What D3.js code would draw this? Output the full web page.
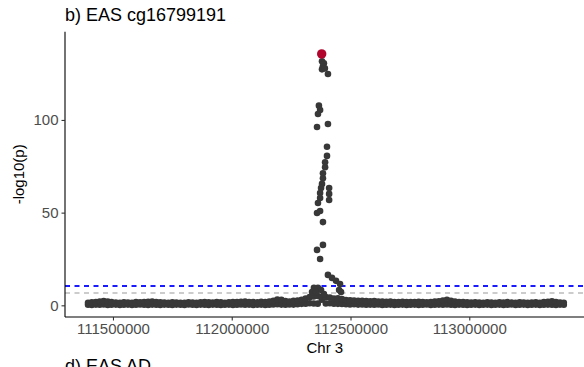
<!DOCTYPE html>
<html>
<head>
<meta charset="utf-8">
<script src="https://cdn.jsdelivr.net/npm/d3@7"></script>
<style>
  body { margin: 0; background: #fff; }
  svg { display: block; font-family: "Liberation Sans", Arial, sans-serif; }
</style>
</head>
<body>
<div id="chart"></div>
<script>
// positions in Mb on chr 3, values are -log10(p)
var bgPos = [
  111.395, 111.411, 111.428, 111.444, 111.461, 111.478, 111.494, 111.512, 111.529, 111.546,
  111.563, 111.580, 111.597, 111.614, 111.631, 111.648, 111.665, 111.682, 111.699, 111.716,
  111.733, 111.750, 111.767, 111.784, 111.801, 111.818, 111.835, 111.852, 111.869, 111.886,
  111.903, 111.920, 111.937, 111.954, 111.971, 111.988, 112.005, 112.022, 112.039, 112.056,
  112.073, 112.090, 112.107, 112.124, 112.141, 112.158, 112.175, 112.192, 112.209, 112.226,
  112.243, 112.260, 112.277, 112.294, 112.311, 112.328, 112.345, 112.362, 112.379, 112.396,
  112.413, 112.430, 112.447, 112.464, 112.481, 112.498, 112.515, 112.532, 112.549, 112.566,
  112.583, 112.600, 112.617, 112.634, 112.651, 112.668, 112.685, 112.702, 112.719, 112.736,
  112.753, 112.770, 112.787, 112.804, 112.821, 112.838, 112.855, 112.872, 112.889, 112.906,
  112.923, 112.940, 112.957, 112.974, 112.991, 113.008, 113.025, 113.042, 113.059, 113.076,
  113.093, 113.110, 113.127, 113.144, 113.161, 113.178, 113.195, 113.212, 113.229, 113.246,
  113.263, 113.280, 113.297, 113.314, 113.331, 113.348, 113.365, 113.382, 113.398
];
var bgLow = [
  0.3, 0.2, 0.4, 0.3, 0.5, 0.2, 0.3, 0.4, 0.2, 0.3,
  0.4, 0.2, 0.3, 0.5, 0.3, 0.2, 0.4, 0.3, 0.2, 0.4,
  0.3, 0.2, 0.4, 0.3, 0.2, 0.5, 0.3, 0.2, 0.4, 0.3,
  0.2, 0.4, 0.3, 0.2, 0.3, 0.4, 0.2, 0.3, 0.5, 0.3,
  0.4, 0.2, 0.3, 0.4, 0.2, 0.3, 0.5, 0.6, 0.4, 0.3,
  0.5, 0.4, 0.6, 0.8, 0.9, 1.1, 1.0, 0.9, 3.0, 1.0,
  1.1, 0.9, 0.8, 0.7, 0.6, 0.5, 0.6, 0.4, 0.5, 0.3,
  0.4, 0.3, 0.5, 0.2, 0.3, 0.4, 0.2, 0.3, 0.4, 0.2,
  0.3, 0.4, 0.2, 0.3, 0.5, 0.2, 0.3, 0.4, 0.3, 0.5,
  0.3, 0.2, 0.4, 0.3, 0.2, 0.3, 0.4, 0.2, 0.3, 0.4,
  0.2, 0.3, 0.4, 0.2, 0.3, 0.5, 0.2, 0.3, 0.4, 0.2,
  0.3, 0.4, 0.2, 0.3, 0.4, 0.3, 0.2, 0.4, 0.3
];
var bgHigh = [
  1.4, 1.6, 1.7, 2.0, 2.3, 2.1, 1.8, 1.5, 1.4, 1.6,
  1.5, 1.4, 1.7, 1.6, 1.8, 1.9, 2.1, 1.8, 1.6, 1.5,
  1.4, 1.6, 1.5, 1.3, 1.4, 1.6, 1.5, 1.4, 1.6, 1.7,
  1.6, 1.5, 1.7, 1.6, 1.4, 1.6, 1.7, 1.8, 1.9, 2.1,
  1.8, 1.7, 1.6, 1.9, 1.8, 2.0, 2.4, 3.1, 3.0, 2.3,
  2.1, 2.4, 2.6, 3.0, 3.6, 4.4, 4.8, 5.0, 4.6, 4.4,
  4.2, 3.6, 3.8, 3.4, 2.9, 2.7, 2.6, 2.4, 2.5, 2.3,
  2.2, 2.3, 2.1, 2.0, 1.9, 2.0, 1.8, 1.7, 1.9, 1.8,
  1.7, 1.8, 1.9, 1.7, 1.6, 1.8, 2.0, 2.2, 2.6, 3.0,
  2.4, 2.0, 1.8, 1.7, 1.6, 1.5, 1.6, 1.5, 1.4, 1.6,
  1.5, 1.4, 1.6, 1.5, 1.7, 1.5, 1.4, 1.6, 1.5, 1.4,
  1.5, 1.6, 1.4, 1.7, 1.9, 2.2, 1.8, 1.5, 1.4
];

// the association peak
var peakPos = [
  112.380, 112.388, 112.384, 112.380, 112.392, 112.405,
  112.367, 112.372, 112.363, 112.359, 112.405,
  112.401, 112.401, 112.393, 112.393, 112.384, 112.384, 112.380, 112.376,
  112.372, 112.372, 112.363, 112.359, 112.372, 112.384,
  112.410, 112.410, 112.410,
  112.384, 112.359, 112.372,
  112.405, 112.422, 112.439, 112.456,
  112.346, 112.363, 112.376, 112.338, 112.355, 112.452, 112.460, 112.388
];
var peakVal = [
  131.6, 130.6, 128.9, 127.3, 127.8, 124.8,
  107.7, 105.4, 103.2, 96.2, 97.8,
  85.5, 80.6, 77.2, 74.5, 71.2, 68.5, 65.5, 63.3,
  60.6, 57.9, 55.2, 49.8, 50.9, 44.9,
  63.3, 60.1, 56.8,
  32.6, 29.9, 25.0,
  16.4, 14.8, 13.2, 11.5,
  9.4, 9.4, 8.3, 7.2, 7.2, 8.3, 7.2, 6.1
];

// lead CpG / SNP
var leadPos = [112.3787];
var leadVal = [135.6];

var xTicks = [111500000, 112000000, 112500000, 113000000];
var yTicks = [0, 50, 100];
var thresholds = [
  {value: 10.3, colour: '#1a1aff'},
  {value: 6.9, colour: '#cccccc'}
];

var width = 584,
    height = 367,
    margin = {top: 31.7, right: 0, bottom: 50, left: 65},
    panel_bottom = height - margin.bottom;

var svg = d3.select('#chart').append('svg')
    .attr('width', width)
    .attr('height', height);

var x = d3.scaleLinear()
    .domain([111298000, 113483000])
    .range([margin.left, width - margin.right]);

var y = d3.scaleLinear()
    .domain([-6.3, 147.6])
    .range([panel_bottom, margin.top]);

// threshold lines
svg.append('g').selectAll('line')
    .data(thresholds)
  .enter().append('line')
    .attr('x1', margin.left)
    .attr('x2', width)
    .attr('y1', d => Math.round(y(d.value)))
    .attr('y2', d => Math.round(y(d.value)))
    .attr('stroke', d => d.colour)
    .attr('stroke-width', 1.8)
    .attr('stroke-dasharray', '5,4.5');

var dotColour = '#383838',
    r = 3.3;

function drawDots(pos, val, colour, radius) {
  var pts = pos.map((p, i) => ({pos: p * 1e6, val: val[i]}));
  svg.append('g').selectAll('circle')
      .data(pts)
    .enter().append('circle')
      .attr('cx', d => x(d.pos))
      .attr('cy', d => y(d.val))
      .attr('r', radius)
      .attr('fill', colour);
}

drawDots(bgPos, bgLow, dotColour, r);
drawDots(bgPos, bgHigh, dotColour, r);
drawDots(peakPos, peakVal, dotColour, r);
drawDots(leadPos, leadVal, '#b1052e', 4.7);

// axes
var xAxis = svg.append('g')
    .attr('transform', 'translate(0,' + panel_bottom + ')')
    .call(d3.axisBottom(x).tickValues(xTicks).tickFormat(d3.format('d')).tickSize(3.5).tickPadding(3));

var yAxis = svg.append('g')
    .attr('transform', 'translate(' + margin.left + ',0)')
    .call(d3.axisLeft(y).tickValues(yTicks).tickSize(3.5).tickPadding(3));

[xAxis, yAxis].forEach(function(ax) {
  ax.select('.domain').attr('stroke', '#000').attr('stroke-width', 1.1);
  ax.selectAll('.tick line').attr('stroke', '#333').attr('stroke-width', 1.1);
  ax.selectAll('.tick text').attr('fill', '#4d4d4d').style('font-size', '15px');
});
// ggplot draws axis lines only over the panel, no outer ticks
xAxis.select('.domain').attr('d', 'M' + margin.left + ',0H' + width);
yAxis.select('.domain').attr('d', 'M0,' + margin.top + 'V' + panel_bottom);

// titles
svg.append('text')
    .attr('x', 65)
    .attr('y', 20.7)
    .style('font-size', '18px')
    .attr('fill', '#000')
    .text('b) EAS cg16799191');

svg.append('text')
    .attr('transform', 'translate(24,' + ((margin.top + panel_bottom) / 2) + ') rotate(-90)')
    .attr('text-anchor', 'middle')
    .style('font-size', '15px')
    .text('-log10(p)');

svg.append('text')
    .attr('x', x(112392000))
    .attr('y', 353)
    .attr('text-anchor', 'middle')
    .style('font-size', '15px')
    .text('Chr 3');

// next panel's title, cut off by the bottom edge
svg.append('text')
    .attr('x', 65)
    .attr('y', 371.5)
    .style('font-size', '18px')
    .text('d) EAS AD');
</script>
</body>
</html>
